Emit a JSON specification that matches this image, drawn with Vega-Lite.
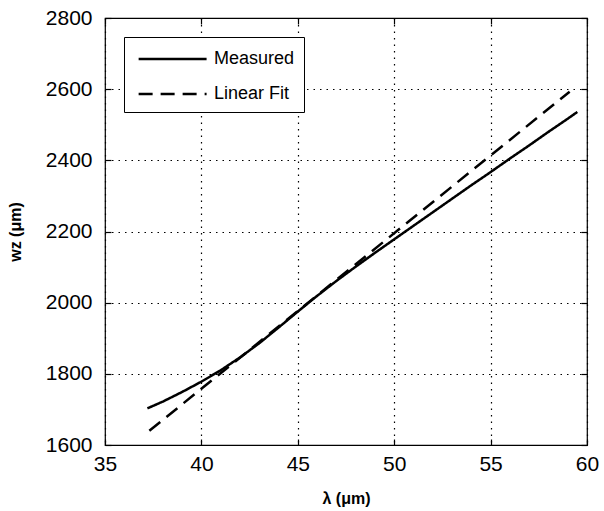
{
  "$schema": "https://vega.github.io/schema/vega-lite/v6.json",
  "width": 482,
  "height": 427,
  "autosize": {"type": "none"},
  "padding": {"left": 105, "top": 18, "right": 17, "bottom": 66},
  "background": "white",
  "config": {
    "font": "Liberation Sans",
    "view": {"stroke": "black", "strokeWidth": 1.2},
    "axis": {
      "domain": false,
      "labelFont": "Liberation Sans",
      "labelFontSize": 21,
      "labelColor": "black",
      "labelFlush": false,
      "format": "d",
      "titleFont": "Liberation Sans",
      "titleFontSize": 16,
      "titleFontWeight": "bold",
      "titleColor": "black",
      "grid": true,
      "gridColor": "black",
      "gridOpacity": 1,
      "gridWidth": 1.2,
      "gridDash": [1.5, 5],
      "ticks": true,
      "tickColor": "black",
      "tickSize": -6,
      "tickWidth": 1.2
    }
  },
  "data": {
    "values": [
      {"x": 37.2, "y": 1703, "series": "Measured"},
      {"x": 38, "y": 1722, "series": "Measured"},
      {"x": 39, "y": 1749, "series": "Measured"},
      {"x": 40, "y": 1778, "series": "Measured"},
      {"x": 41, "y": 1810, "series": "Measured"},
      {"x": 42, "y": 1846, "series": "Measured"},
      {"x": 43, "y": 1886, "series": "Measured"},
      {"x": 44, "y": 1930, "series": "Measured"},
      {"x": 45, "y": 1975, "series": "Measured"},
      {"x": 46, "y": 2019, "series": "Measured"},
      {"x": 47, "y": 2061, "series": "Measured"},
      {"x": 48, "y": 2101, "series": "Measured"},
      {"x": 49, "y": 2140, "series": "Measured"},
      {"x": 50, "y": 2178, "series": "Measured"},
      {"x": 51, "y": 2216, "series": "Measured"},
      {"x": 52, "y": 2254, "series": "Measured"},
      {"x": 53, "y": 2292, "series": "Measured"},
      {"x": 54, "y": 2330, "series": "Measured"},
      {"x": 55, "y": 2367, "series": "Measured"},
      {"x": 56, "y": 2405, "series": "Measured"},
      {"x": 57, "y": 2442, "series": "Measured"},
      {"x": 58, "y": 2480, "series": "Measured"},
      {"x": 59, "y": 2517, "series": "Measured"},
      {"x": 59.5, "y": 2536, "series": "Measured"},
      {"x": 37.3, "y": 1640, "series": "Linear Fit"},
      {"x": 59.1, "y": 2593, "series": "Linear Fit"}
    ]
  },
  "layer": [
    {
      "mark": {"type": "line", "color": "black", "strokeWidth": 2.5},
      "encoding": {
        "x": {
          "field": "x", "type": "quantitative",
          "scale": {"domain": [35, 60], "nice": false, "zero": false},
          "axis": {"title": "λ (μm)", "values": [35, 40, 45, 50, 55, 60], "labelPadding": 14, "titlePadding": 16}
        },
        "y": {
          "field": "y", "type": "quantitative",
          "scale": {"domain": [1600, 2800], "nice": false, "zero": false},
          "axis": {"title": "wz (μm)", "values": [1600, 1800, 2000, 2200, 2400, 2600, 2800], "labelPadding": 19, "titlePadding": 22}
        },
        "strokeDash": {
          "field": "series", "type": "nominal",
          "scale": {"domain": ["Measured", "Linear Fit"], "range": [[1, 0], [14, 8]]},
          "legend": {
            "title": null,
            "orient": "none",
            "legendX": 19,
            "legendY": 19,
            "symbolType": "M-0.65,0H5.34",
            "symbolSize": 515,
            "symbolStrokeWidth": 2.5,
            "symbolStrokeColor": "black",
            "labelFontSize": 18,
            "labelOffset": 55,
            "labelColor": "black",
            "labelFont": "Liberation Sans",
            "strokeColor": "black",
            "fillColor": "white",
            "padding": 9,
            "rowPadding": 13
          }
        }
      }
    },
    {
      "mark": {"type": "line", "opacity": 0},
      "encoding": {
        "x": {
          "field": "x", "type": "quantitative",
          "axis": {"orient": "top", "labels": false, "grid": false, "title": null, "values": [35, 40, 45, 50, 55, 60]}
        },
        "y": {
          "field": "y", "type": "quantitative",
          "axis": {"orient": "right", "labels": false, "grid": false, "title": null, "values": [1600, 1800, 2000, 2200, 2400, 2600, 2800]}
        }
      }
    }
  ],
  "resolve": {"axis": {"x": "independent", "y": "independent"}}
}
